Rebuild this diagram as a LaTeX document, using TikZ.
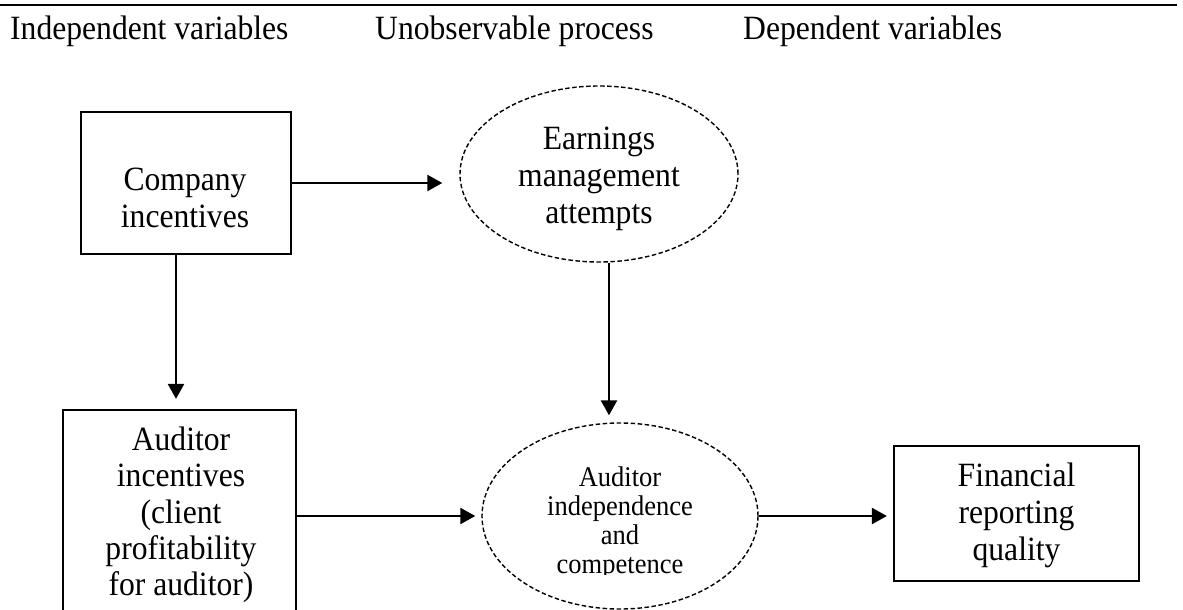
\documentclass[tikz,border=0pt]{standalone}
\usepackage{fontspec}
\setmainfont{Liberation Serif}[FakeStretch=0.93]
\usetikzlibrary{arrows.meta,shapes.geometric}
\begin{document}
\begin{tikzpicture}[x=1pt,y=-1pt,
  rectbox/.style={draw,line width=2.2pt,inner sep=0pt},
  oval/.style={draw,ellipse,dash pattern=on 4.5pt off 2.5pt,line width=1.4pt,inner sep=0pt},
  bigtxt/.style={font=\fontsize{34}{37}\selectfont,align=center,inner sep=0pt,anchor=north},
  smalltxt/.style={font=\fontsize{28.5}{29}\selectfont,align=center,inner sep=0pt,anchor=north},
  headtxt/.style={font=\fontsize{34}{37}\selectfont,anchor=base west,inner sep=0pt},
  conn/.style={line width=2.3pt,-{Triangle[length=15pt,width=16pt]}}]
\useasboundingbox (0,0) rectangle (1183,610);
\clip (0,0) rectangle (1183,610);
% top rule
\coordinate (rl) at (0,5);
\coordinate (rr) at (1177,5);
\draw[line width=2.6pt] (rl) -- (rr);
% headers
\node[headtxt] (h1) at (10,40) {Independent variables};
\node[headtxt] (h2) at (375,40) {Unobservable process};
\node[headtxt] (h3) at (743,40) {Dependent variables};
% boxes and ellipses
\node[rectbox,minimum width=210pt,minimum height=142pt] (comp) at (186,183) {};
\node[rectbox,minimum width=233pt,minimum height=212pt] (aud) at (179.5,516) {};
\node[rectbox,minimum width=245pt,minimum height=135pt] (fin) at (1016.5,513.5) {};
\node[oval,minimum width=278pt,minimum height=176pt] (earn) at (599,174) {};
\node[oval,minimum width=276pt,minimum height=186pt] (ind) at (620,516) {};
% texts
\node[bigtxt] (compt) at (185,168) {Company\\incentives};
\node[bigtxt] (earnt) at (599,126.8) {Earnings\\management\\attempts};
\node[bigtxt,font=\fontsize{34}{36.3}\selectfont] (audt) at (181,426.8) {Auditor\\incentives\\(client\\profitability\\for auditor)};
\node[bigtxt] (fint) at (1016.5,462.8) {Financial\\reporting\\quality};
\begin{scope}
\clip (0,0) rectangle (1183,574);
\node[smalltxt] (indt) at (620,466.5) {Auditor\\independence\\and\\competence};
\end{scope}
% connectors
\draw[conn,shorten >=17pt] (comp.east) -- (comp.east -| earn.west);
\draw[conn,shorten >=10pt] ([xshift=-10pt]comp.south) -- ([xshift=-10pt]comp.south |- aud.north);
\draw[conn,shorten >=7pt] ([xshift=10pt]earn.south) -- ([xshift=10pt]earn.south |- ind.north);
\draw[conn,shorten >=6pt] (aud.east) -- (aud.east -| ind.west);
\draw[conn,shorten >=6pt] (ind.east) -- (ind.east -| fin.west);
\end{tikzpicture}
\end{document}
